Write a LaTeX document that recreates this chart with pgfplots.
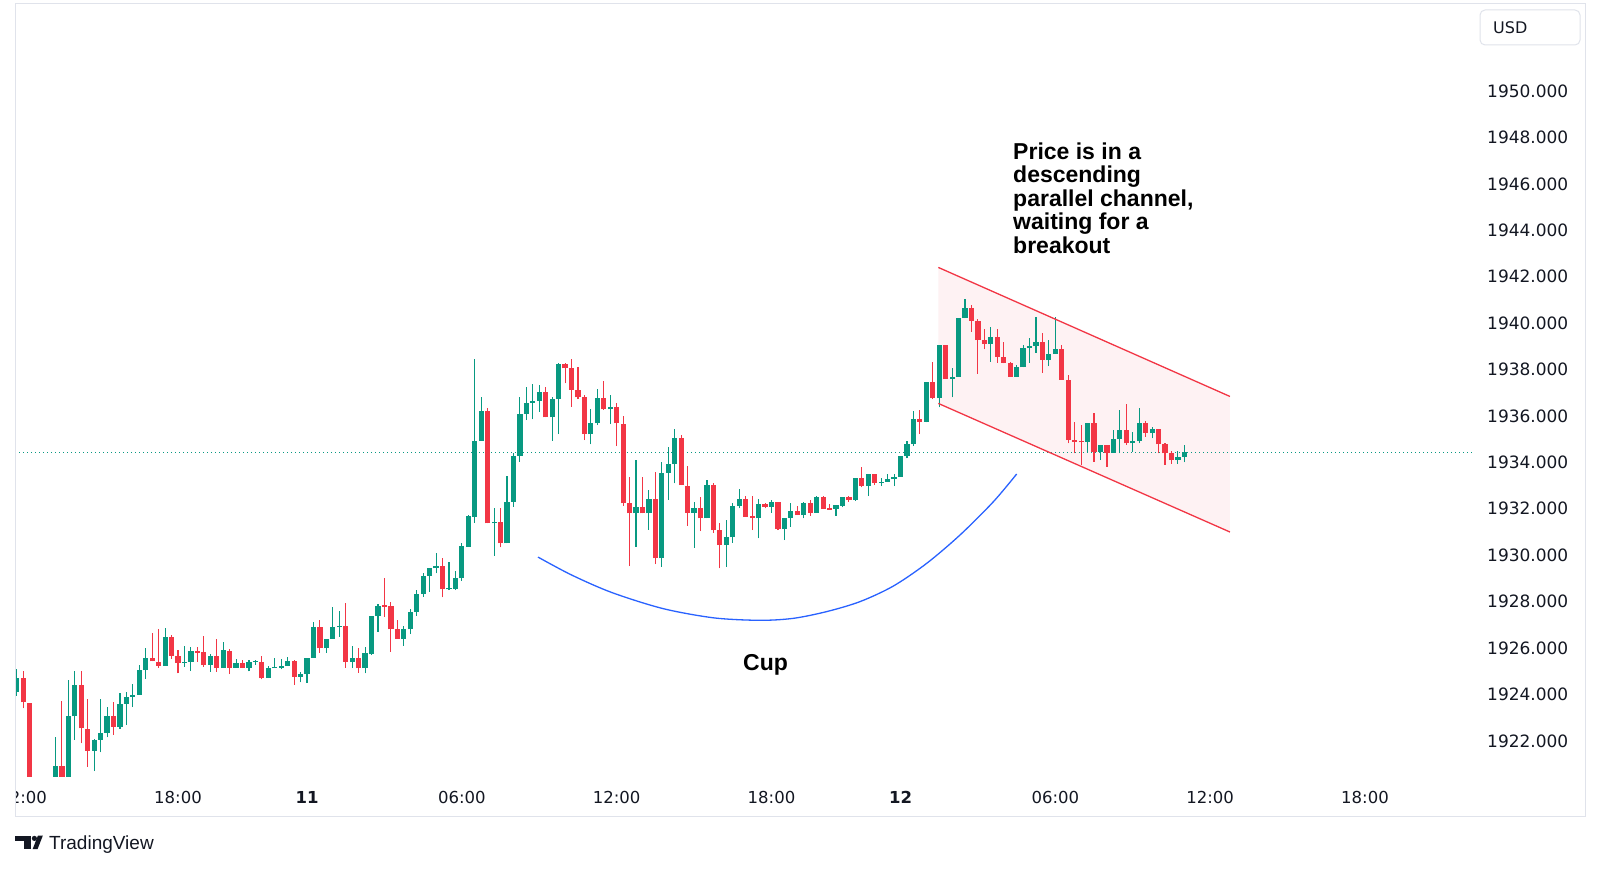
\documentclass[border=0pt]{standalone}
\usepackage{pgfplots}
\pgfplotsset{compat=1.18}
\usepackage{pgfplotstable}
\usepackage{fontspec}
\setmainfont{DejaVu Sans}
\newfontfamily\lib{Liberation Sans}
\definecolor{upc}{HTML}{089981}
\definecolor{dnc}{HTML}{F23645}
\definecolor{txt}{HTML}{131722}
\definecolor{framec}{HTML}{E0E3EB}
\definecolor{cupblue}{HTML}{2962FF}
\definecolor{chfill}{RGB}{254,242,243}
\pgfplotstableread{
k o h l c
-1 1924.12 1925.08 1923.95 1924.72
3 1919.3 1919.9 1919.0 1919.6
4 1919.6 1920.2 1919.4 1920.0
5 1920.0 1922.18 1919.8 1920.93
7 1920.3 1924.62 1920.1 1923.06
8 1923.06 1925.01 1922.04 1924.41
11 1921.58 1922.06 1920.70 1922.04
12 1922.04 1923.80 1921.50 1922.35
13 1922.35 1923.45 1922.15 1923.06
15 1922.61 1924.08 1922.53 1923.59
16 1923.59 1924.11 1922.70 1923.91
17 1923.91 1924.45 1923.45 1923.98
18 1923.98 1925.27 1923.98 1925.05
19 1925.05 1925.99 1924.68 1925.59
22 1925.24 1926.85 1925.24 1926.49
25 1925.37 1926.09 1925.20 1925.42
26 1925.40 1926.06 1925.01 1925.89
29 1925.26 1925.73 1924.98 1925.67
31 1925.13 1926.25 1925.13 1925.91
33 1925.16 1925.53 1925.16 1925.37
35 1925.14 1925.49 1925.00 1925.41
36 1925.40 1925.49 1925.28 1925.46
38 1924.70 1925.23 1924.70 1925.16
39 1925.14 1925.58 1925.14 1925.19
40 1925.16 1925.54 1925.08 1925.23
41 1925.23 1925.60 1925.23 1925.46
43 1924.77 1924.98 1924.52 1924.88
44 1924.88 1925.58 1924.51 1925.58
45 1925.58 1927.14 1925.58 1926.89
47 1925.99 1926.39 1925.80 1926.39
48 1926.39 1927.75 1926.39 1926.89
49 1926.89 1927.60 1926.49 1926.96
51 1925.41 1926.09 1925.13 1925.55
53 1925.13 1926.03 1924.91 1925.77
54 1925.73 1927.38 1925.70 1927.38
55 1927.38 1927.88 1926.70 1927.82
59 1926.39 1926.95 1926.10 1926.80
60 1926.80 1927.70 1926.60 1927.55
61 1927.55 1928.50 1927.40 1928.33
62 1928.33 1929.22 1928.21 1929.12
63 1929.12 1929.43 1928.43 1929.43
64 1929.43 1930.08 1929.22 1929.53
66 1928.53 1929.72 1928.50 1928.58
67 1928.56 1929.33 1928.50 1929.00
68 1929.00 1930.51 1928.90 1930.40
69 1930.37 1931.73 1930.37 1931.69
70 1931.66 1938.44 1931.40 1934.93
71 1934.93 1936.80 1934.93 1936.23
73 1931.37 1932.05 1929.97 1931.44
75 1930.51 1933.41 1930.51 1932.31
76 1932.31 1934.39 1932.09 1934.29
77 1934.29 1936.80 1934.03 1936.08
78 1936.08 1937.26 1935.82 1936.54
79 1936.57 1937.38 1935.85 1936.66
80 1936.66 1937.33 1936.18 1937.02
82 1935.94 1936.83 1934.93 1936.73
83 1936.73 1938.30 1935.22 1938.24
88 1935.21 1936.28 1934.78 1935.68
89 1935.68 1937.15 1935.60 1936.76
91 1936.28 1936.90 1935.65 1936.37
95 1931.80 1934.10 1930.37 1932.09
97 1931.80 1932.81 1931.09 1932.41
99 1929.86 1934.00 1929.51 1933.56
100 1933.56 1934.68 1932.38 1933.92
101 1933.92 1935.42 1933.10 1935.03
104 1931.83 1932.31 1930.32 1932.05
106 1931.59 1933.24 1931.59 1933.02
109 1930.44 1931.52 1929.51 1930.77
110 1930.77 1932.23 1930.54 1932.12
111 1932.12 1932.84 1932.02 1932.42
114 1931.59 1932.42 1930.73 1932.19
116 1932.09 1932.38 1931.83 1932.31
118 1931.13 1931.62 1930.65 1931.62
119 1931.62 1932.23 1931.23 1931.92
121 1931.73 1932.31 1931.59 1932.23
123 1931.83 1932.55 1931.83 1932.52
126 1931.99 1932.16 1931.69 1932.16
127 1932.13 1932.52 1932.06 1932.49
129 1932.38 1933.31 1932.35 1933.31
131 1932.98 1933.50 1932.55 1933.50
133 1933.12 1933.31 1932.98 1933.17
134 1933.17 1933.48 1933.17 1933.27
135 1933.27 1933.50 1932.98 1933.38
136 1933.38 1934.27 1933.38 1934.27
137 1934.27 1934.92 1934.17 1934.79
138 1934.79 1936.23 1934.70 1935.85
140 1935.75 1937.48 1935.72 1937.48
142 1936.76 1939.06 1936.37 1939.06
144 1937.59 1938.05 1936.80 1937.69
145 1937.69 1940.21 1937.69 1940.21
146 1940.21 1941.02 1940.21 1940.64
150 1939.10 1939.85 1938.34 1939.41
154 1937.69 1938.20 1937.69 1938.09
155 1938.09 1939.06 1938.09 1938.91
156 1938.91 1939.34 1938.30 1939.01
157 1939.01 1940.28 1938.73 1939.20
159 1938.41 1939.27 1938.15 1938.67
160 1938.67 1940.25 1938.67 1938.88
165 1934.88 1935.71 1934.45 1935.71
167 1934.46 1934.75 1934.10 1934.75
169 1934.42 1935.39 1934.42 1934.99
170 1934.99 1936.26 1934.39 1935.39
172 1934.82 1935.32 1934.46 1934.92
173 1934.92 1936.36 1934.82 1935.68
175 1935.28 1935.54 1935.03 1935.44
179 1934.10 1934.50 1933.95 1934.25
180 1934.25 1934.75 1934.00 1934.44
}\upcandles
\pgfplotstableread{
k o h l c
0 1924.72 1925.00 1923.40 1923.66
1 1923.65 1923.65 1919.8 1920.0
2 1920.0 1920.3 1919.0 1919.3
6 1920.93 1923.73 1920.0 1920.3
9 1924.41 1925.01 1921.89 1922.54
10 1922.52 1923.79 1920.89 1921.58
14 1923.06 1923.68 1922.27 1922.61
20 1925.56 1926.66 1925.43 1925.43
21 1925.42 1926.82 1925.15 1925.24
23 1926.49 1926.56 1925.54 1925.67
24 1925.67 1925.92 1924.91 1925.37
27 1925.89 1926.06 1925.40 1925.80
28 1925.82 1926.52 1925.20 1925.26
30 1925.67 1926.38 1924.98 1925.13
32 1925.89 1925.95 1924.88 1925.16
34 1925.37 1925.49 1925.14 1925.14
37 1925.41 1925.66 1924.65 1924.70
42 1925.46 1925.49 1924.41 1924.77
46 1926.89 1927.21 1925.80 1925.99
50 1926.96 1927.93 1925.16 1925.41
52 1925.55 1925.99 1924.94 1925.13
56 1927.84 1929.03 1927.35 1927.78
57 1927.82 1927.97 1925.84 1926.81
58 1926.82 1927.21 1926.39 1926.39
65 1929.53 1929.87 1928.18 1928.53
72 1936.23 1936.33 1931.37 1931.37
74 1931.44 1932.02 1930.34 1930.51
81 1937.02 1937.26 1935.94 1935.94
84 1938.24 1938.30 1937.40 1938.05
85 1938.05 1938.44 1936.40 1937.12
86 1937.12 1938.09 1936.72 1936.80
87 1936.80 1936.90 1934.96 1935.22
90 1936.76 1937.52 1936.26 1936.28
92 1936.37 1936.57 1934.70 1935.68
93 1935.65 1936.00 1932.13 1932.23
94 1932.23 1933.38 1929.53 1931.80
96 1932.09 1933.38 1931.80 1931.80
98 1932.41 1933.60 1929.62 1929.86
102 1935.03 1935.18 1933.02 1933.02
103 1932.98 1933.84 1931.26 1931.83
105 1932.05 1932.52 1931.04 1931.59
107 1933.02 1933.13 1930.97 1931.08
108 1931.08 1931.37 1929.43 1930.44
112 1932.42 1932.56 1931.66 1931.66
113 1931.69 1932.55 1931.08 1931.59
115 1932.19 1932.26 1932.02 1932.09
117 1932.31 1932.31 1931.08 1931.13
120 1931.92 1932.12 1931.73 1931.73
122 1932.23 1932.38 1931.69 1931.83
124 1932.52 1932.55 1931.99 1931.99
125 1932.02 1932.21 1931.96 1931.96
128 1932.49 1932.55 1932.30 1932.38
130 1933.31 1933.81 1932.92 1932.98
132 1933.50 1933.50 1933.02 1933.12
139 1935.85 1936.26 1935.22 1935.75
141 1937.48 1938.31 1936.72 1936.76
143 1939.06 1939.06 1937.59 1937.59
147 1940.64 1940.78 1939.63 1940.10
148 1940.10 1940.16 1937.81 1939.27
149 1939.27 1939.73 1938.87 1939.10
151 1939.41 1939.75 1938.30 1938.55
152 1938.55 1939.20 1938.27 1938.30
153 1938.30 1938.34 1937.69 1937.69
158 1939.20 1939.56 1937.86 1938.41
161 1938.88 1939.06 1937.55 1937.55
162 1937.55 1937.76 1934.82 1934.96
163 1934.96 1935.75 1934.39 1934.89
164 1934.92 1935.61 1933.89 1934.86
166 1935.71 1936.14 1934.03 1934.46
168 1934.75 1934.75 1933.81 1934.42
171 1935.39 1936.51 1934.75 1934.82
174 1935.68 1935.80 1935.11 1935.28
176 1935.44 1935.44 1934.39 1934.78
177 1934.78 1934.82 1933.89 1934.39
178 1934.39 1934.50 1933.95 1934.10
}\dncandles
\begin{document}
\begin{tikzpicture}[x=1pt,y=1pt]
\path[use as bounding box, fill=white] (0,0) rectangle (1600,868);
\begin{axis}[
  at={(15pt,92pt)}, anchor=south west,
  scale only axis, width=1459pt, height=772pt,
  xmin=-1.271, xmax=224.9, ymin=1920.487, ymax=1953.75,
  axis line style={draw=none}, tick style={draw=none}, major tick length=0pt,
  xtick={0,24,44,68,92,116,136,160,184,208},
  xticklabels={12:00,18:00,\textbf{11},06:00,12:00,18:00,\textbf{12},06:00,12:00,18:00},
  xticklabel style={anchor=center, yshift=-21pt, font=\fontsize{16.5}{18}\selectfont, text=txt, inner sep=0pt},
  ytick={1922,1924,...,1950},
  yticklabel pos=right,
  yticklabel style={anchor=west, xshift=13pt, inner sep=0pt, font=\fontsize{17}{19}\selectfont, text=txt},
  /pgf/number format/fixed, /pgf/number format/fixed zerofill,
  /pgf/number format/precision=3, /pgf/number format/1000 sep={},
  /pgf/number format/assume math mode=true,
  clip=true,
]
% parallel channel fill
\addplot[fill=chfill, draw=none, forget plot] coordinates {(141.86,1942.40) (187.07,1936.84) (187.07,1931.0) (141.86,1936.54)} -- cycle;
% last price line
\addplot[upc, line width=1pt, dash pattern=on 1pt off 3pt, forget plot] coordinates {(-1.271,1934.44) (224.9,1934.44)};
% wicks
\addplot[draw=none, no marks, forget plot, error bars/.cd, y dir=plus, y explicit, error mark=none,
  error bar style={line width=1.1pt, draw=upc, solid}] table[x=k, y=l, y error expr=\thisrow{h}-\thisrow{l}] \upcandles;
\addplot[draw=none, no marks, forget plot, error bars/.cd, y dir=plus, y explicit, error mark=none,
  error bar style={line width=1.1pt, draw=dnc, solid}] table[x=k, y=l, y error expr=\thisrow{h}-\thisrow{l}] \dncandles;
% bodies
\addplot[draw=none, no marks, forget plot, error bars/.cd, y dir=plus, y explicit, error mark=none,
  error bar style={line width=5.2pt, draw=upc, solid}] table[x=k, y=o, y error expr=\thisrow{c}-\thisrow{o}] \upcandles;
\addplot[draw=none, no marks, forget plot, error bars/.cd, y dir=plus, y explicit, error mark=none,
  error bar style={line width=5.2pt, draw=dnc, solid}] table[x=k, y=c, y error expr=\thisrow{o}-\thisrow{c}] \dncandles;
% channel lines
\addplot[dnc, line width=1.3pt, forget plot] coordinates {(141.86,1942.40) (187.07,1936.84)};
\addplot[dnc, line width=1.3pt, forget plot] coordinates {(141.86,1936.54) (187.07,1931.0)};
% cup curve
\addplot[cupblue, line width=1.3pt, smooth, tension=0.5, forget plot] coordinates {
 (79.8,1929.92) (84.99,1929.15) (91.27,1928.39) (99.18,1927.70) (107.08,1927.30)
 (114.22,1927.195) (119.38,1927.28) (124.55,1927.57) (129.72,1928.0) (134.88,1928.67)
 (140.06,1929.65) (145.22,1930.87) (150.38,1932.30) (154.01,1933.50)};
\end{axis}
% cover clipped part of first time label
\fill[white] (0,55) rectangle (14.6,90);
% frame
\draw[framec, line width=1pt] (15,52) rectangle (1585,864.5);
% currency box
\draw[framec, line width=1pt, rounded corners=5pt] (1480,823) rectangle (1580,858);
\node[anchor=base west, inner sep=0pt, text=txt, font=\fontsize{16}{18}\selectfont] at (1493,834.2) {USD};
% annotations
\begin{scope}[every node/.style={anchor=base west, inner sep=0pt, text=black, font=\lib\bfseries\fontsize{23}{24}\selectfont}]
\node at (1013,708.5) {Price is in a};
\node at (1013,685) {descending};
\node at (1013,661.5) {parallel channel,};
\node at (1013,638) {waiting for a};
\node at (1013,614.5) {breakout};
\node at (743,197.5) {Cup};
\end{scope}
% TradingView logo
\fill[txt] (15,27.3) rectangle (30.7,32.3);
\fill[txt] (24,19) rectangle (30.7,32.3);
\fill[txt] (34.4,29.6) circle (2.6);
\fill[txt] (32.7,19) -- (37.6,19) -- (42.8,32.3) -- (37.9,32.3) -- cycle;
\node[anchor=base west, inner sep=0pt, text=txt, font=\lib\fontsize{19}{21}\selectfont] at (49,18.4) {TradingView};
\end{tikzpicture}
\end{document}
